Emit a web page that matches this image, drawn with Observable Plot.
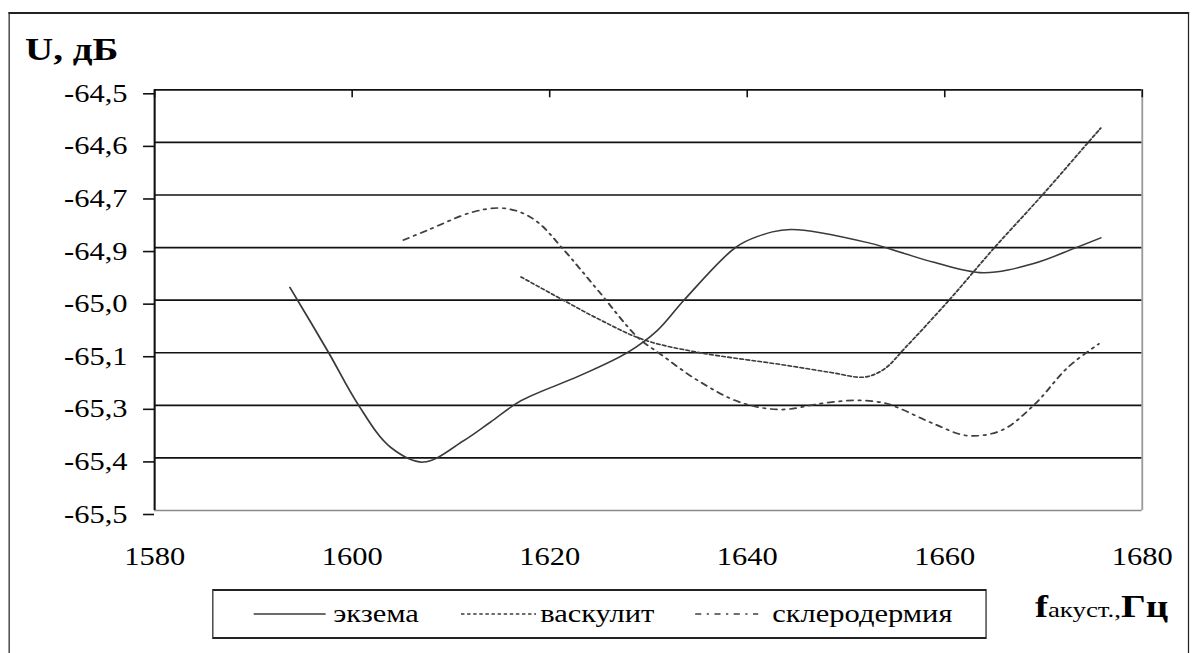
<!DOCTYPE html>
<html><head><meta charset="utf-8">
<script src="https://cdn.jsdelivr.net/npm/d3@7"></script>
<script src="https://cdn.jsdelivr.net/npm/@observablehq/plot@0.6"></script>
<style>
html,body{margin:0;padding:0;background:#fff;overflow:hidden;width:1194px;height:653px;}
#stage{position:absolute;left:0;top:0;width:979px;height:653px;transform-origin:0 0;transform:scaleX(1.2196);font-family:"Liberation Serif","Times New Roman",serif;color:#000;}
#frame{position:absolute;left:6.6px;top:12px;width:968.3px;height:700px;box-sizing:border-box;border-top:2px solid #222;border-left:1.6px solid #222;border-right:1.6px solid #222;}
#chart{position:absolute;left:0;top:0;}
#ytitle{position:absolute;left:20.5px;top:33px;font-size:32px;line-height:32px;font-weight:bold;white-space:nowrap;}
#xtitle{position:absolute;left:848.6px;top:590px;line-height:32px;white-space:nowrap;}
#xtitle b{font-size:32px;}
#xtitle span{font-size:22px;}
#legend{position:absolute;left:174.4px;top:589px;width:634.9px;height:50px;box-sizing:border-box;border:2px solid #222;border-left-width:1.7px;border-right-width:1.7px;}
#legend .t{position:absolute;top:0;height:46px;line-height:46px;font-size:25px;white-space:nowrap;}
#legend svg{position:absolute;top:18px;height:10px;overflow:visible;}
</style></head><body>
<div id="stage">
  <div id="frame"></div>
  <div id="chart"></div>
  <div id="ytitle">U, дБ</div>
  <div id="xtitle"><b>f</b><span>акуст.,</span><b>Гц</b></div>
  <div id="legend"></div>
</div>
<script>
// ---- data ----
const seriesNames = ["экзема", "васкулит", "склеродермия"];

const eczemaF = [1593.7, 1597.6, 1600.6, 1603.9, 1607.2, 1611.3, 1614.0, 1617.1, 1623.1, 1627.9, 1630.9, 1633.6, 1638.8, 1641.0, 1644.4, 1652.5, 1655.5, 1658.9, 1663.9, 1669.0, 1673.1, 1675.8];
const eczemaU = [-64.970, -65.124, -65.248, -65.350, -65.385, -65.334, -65.290, -65.239, -65.179, -65.124, -65.072, -65.000, -64.875, -64.849, -64.832, -64.865, -64.886, -64.910, -64.935, -64.913, -64.877, -64.852];

const vascF = [1617.1, 1621.3, 1625.2, 1629.5, 1635.0, 1643.4, 1648.5, 1651.8, 1653.8, 1656.0, 1660.4, 1665.0, 1670.0, 1674.6, 1675.8];
const vascU = [-64.945, -64.999, -65.048, -65.094, -65.124, -65.153, -65.172, -65.183, -65.165, -65.113, -65.001, -64.876, -64.747, -64.623, -64.591];

const sclerF = [1605.2, 1607.6, 1612.0, 1614.7, 1616.8, 1618.8, 1621.3, 1624.9, 1628.9, 1631.2, 1635.0, 1639.3, 1643.4, 1647.4, 1651.0, 1654.0, 1655.5, 1658.9, 1662.3, 1665.7, 1669.0, 1672.5, 1675.6];
const sclerU = [-64.857, -64.834, -64.792, -64.781, -64.789, -64.815, -64.877, -64.977, -65.088, -65.128, -65.191, -65.243, -65.260, -65.246, -65.238, -65.245, -65.258, -65.294, -65.322, -65.310, -65.250, -65.159, -65.104];

const xTicks = [1580, 1600, 1620, 1640, 1660, 1680];
const yTicks = [-64.5, -64.625, -64.75, -64.875, -65.0, -65.125, -65.25, -65.375, -65.5];
const yTickLabels = ["-64,5", "-64,6", "-64,7", "-64,9", "-65,0", "-65,1", "-65,3", "-65,4", "-65,5"];

// ---- build ----
const toRows = (F, U) => F.map((f, i) => ({f, u: U[i]}));
const eczema = toRows(eczemaF, eczemaU);
const vasc = toRows(vascF, vascU);
const scler = toRows(sclerF, sclerU);
const yLab = new Map(yTicks.map((v, i) => [v, yTickLabels[i]]));

const styles = [
  {stroke: "#3a3a3a", strokeWidth: 1.5, strokeDasharray: null},
  {stroke: "#3c3c3c", strokeWidth: 1.6, strokeDasharray: "2.8,2.2"},
  {stroke: "#404040", strokeWidth: 1.7, strokeDasharray: "5,4.5,1.8,4.5"}
];

const W = 979, H = 653;
const mT = 89.3, mB = 143, mL = 126.3, mR = 42.9;
const innerH = H - mT - mB;

const chart = Plot.plot({
  width: W, height: H,
  marginLeft: mL, marginRight: mR, marginTop: mT, marginBottom: mB,
  x: {domain: [xTicks[0], xTicks[xTicks.length - 1]], label: null},
  y: {domain: [yTicks[yTicks.length - 1], yTicks[0]], label: null},
  style: {fontFamily: '"Liberation Serif","Times New Roman",serif', fontSize: "25px", color: "#000", background: "transparent", overflow: "visible"},
  marks: [
    Plot.ruleY(yTicks.slice(0, -1), {stroke: "#111", strokeWidth: 1.7}),
    Plot.ruleY(yTicks.slice(-1), {stroke: "#8a8a8a", strokeWidth: 1.6}),
    Plot.ruleX(xTicks.slice(-1), {stroke: "#9a9a9a", strokeWidth: 1.5}),
    Plot.ruleX(xTicks, {stroke: "#111", strokeWidth: 1.3, insetBottom: innerH - 8}),
    Plot.ruleX(xTicks.slice(0, 1), {stroke: "#111", strokeWidth: 1.7}),
    Plot.axisY({ticks: yTicks, tickFormat: d => yLab.get(d), tickSize: 9, tickPadding: 13.2, dy: 4, fontSize: 25, stroke: "#111", strokeWidth: 1.6, label: null}),
    Plot.axisX({ticks: xTicks, tickFormat: d => String(d), tickSize: 0, tickPadding: 37, fontSize: 25, label: null}),
    Plot.line(eczema, {x: "f", y: "u", curve: "catmull-rom", ...styles[0]}),
    Plot.line(vasc, {x: "f", y: "u", curve: "catmull-rom", ...styles[1]}),
    Plot.line(scler, {x: "f", y: "u", curve: "catmull-rom", ...styles[2]})
  ]
});
document.getElementById("chart").appendChild(chart);

// ---- legend ----
const legend = document.getElementById("legend");
const legendSamples = [{left: 33, w: 59}, {left: 202.8, w: 61.5}, {left: 394.6, w: 51.7}];
const legendTextLeft = [97.8, 267.5, 457.8];
seriesNames.forEach((name, i) => {
  const ns = "http://www.w3.org/2000/svg";
  const svg = document.createElementNS(ns, "svg");
  svg.setAttribute("width", legendSamples[i].w);
  svg.setAttribute("height", 10);
  svg.style.left = legendSamples[i].left + "px";
  const ln = document.createElementNS(ns, "line");
  ln.setAttribute("x1", 0); ln.setAttribute("x2", legendSamples[i].w);
  ln.setAttribute("y1", 5); ln.setAttribute("y2", 5);
  ln.setAttribute("stroke", styles[i].stroke);
  ln.setAttribute("stroke-width", styles[i].strokeWidth);
  if (styles[i].strokeDasharray) ln.setAttribute("stroke-dasharray", styles[i].strokeDasharray);
  svg.appendChild(ln);
  legend.appendChild(svg);
  const t = document.createElement("div");
  t.className = "t";
  t.style.left = legendTextLeft[i] + "px";
  t.textContent = name;
  legend.appendChild(t);
});
</script>
</body></html>
